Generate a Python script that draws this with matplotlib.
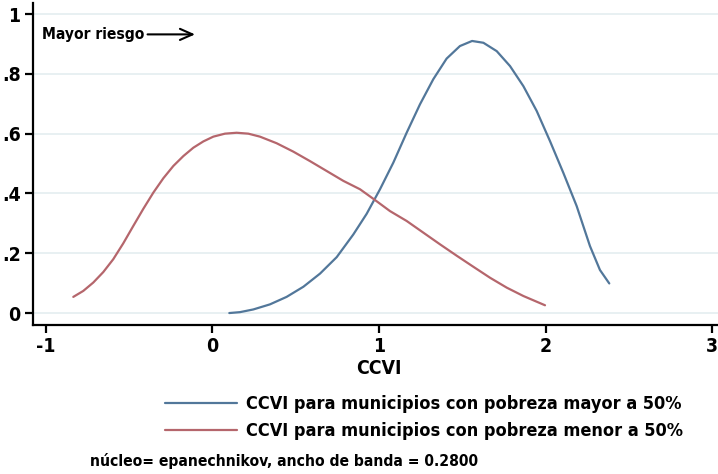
import matplotlib
matplotlib.use("Agg")
import matplotlib.pyplot as plt
from matplotlib import font_manager as fm
from matplotlib.font_manager import FontProperties

# ---- data ----
blue_x = [0.101, 0.165, 0.245, 0.345, 0.445, 0.546, 0.646, 0.746, 0.846, 0.926, 1.006,
          1.086, 1.166, 1.246, 1.326, 1.406, 1.486, 1.559, 1.627, 1.707, 1.787, 1.867,
          1.947, 2.027, 2.107, 2.187, 2.267, 2.327, 2.383]
blue_y = [0.000, 0.003, 0.012, 0.029, 0.054, 0.088, 0.132, 0.187, 0.263, 0.332, 0.414,
          0.503, 0.603, 0.698, 0.782, 0.851, 0.893, 0.910, 0.904, 0.876, 0.826, 0.759,
          0.676, 0.575, 0.469, 0.358, 0.224, 0.144, 0.099]

red_x = [-0.836, -0.776, -0.716, -0.656, -0.596, -0.536, -0.476, -0.415, -0.355, -0.295,
         -0.235, -0.175, -0.115, -0.055, 0.005, 0.075, 0.145, 0.215, 0.285, 0.385, 0.485,
         0.586, 0.686, 0.786, 0.886, 0.976, 1.066, 1.166, 1.266, 1.366, 1.466, 1.566,
         1.667, 1.767, 1.867, 1.997]
red_y = [0.054, 0.074, 0.102, 0.137, 0.180, 0.233, 0.291, 0.349, 0.403, 0.451,
         0.492, 0.525, 0.553, 0.574, 0.590, 0.600, 0.603, 0.600, 0.590, 0.568, 0.540,
         0.508, 0.475, 0.442, 0.414, 0.378, 0.341, 0.308, 0.269, 0.230, 0.192, 0.155,
         0.118, 0.085, 0.057, 0.026]

series_labels = ["CCVI para municipios con pobreza mayor a 50%",
                 "CCVI para municipios con pobreza menor a 50%"]
xticks = [-1, 0, 1, 2, 3]
xtick_labels = ["-1", "0", "1", "2", "3"]
yticks = [0, 0.2, 0.4, 0.6, 0.8, 1.0]
ytick_labels = ["0", ".2", ".4", ".6", ".8", "1"]
xlabel = "CCVI"
note = "núcleo= epanechnikov, ancho de banda = 0.2800"
annot = "Mayor riesgo"
title = "Estimación de densidad de Kernel"

# ---- font: prefer a condensed / narrow bold face if one is installed ----
chosen = None
cands = []
for f in fm.fontManager.ttflist:
    fn = f.fname.lower()
    if ("narrow" in fn or "condensed" in fn or "cond" in f.name.lower()) and \
            ("bold" in fn or f.weight in (700, "bold")):
        cands.append(f)
if cands:
    cands.sort(key=lambda f: (0 if "sans" in f.fname.lower() else 1, f.fname))
    chosen = FontProperties(fname=cands[0].fname)
else:
    chosen = FontProperties(family=["Liberation Sans", "DejaVu Sans"], weight="bold")


def fp(size):
    p = chosen.copy()
    p.set_size(size)
    return p


W, H = 718, 474
fig = plt.figure(figsize=(W / 100, H / 100), dpi=100)
renderer = fig.canvas.get_renderer()


def fit_size(s, target_px, start=13.0):
    t = fig.text(0, 0, s, fontproperties=fp(start))
    w = t.get_window_extent(renderer).width
    t.remove()
    return start * target_px / w


leg_fs = fit_size(series_labels[0], 434)
note_fs = fit_size(note, 390)
ann_fs = fit_size(annot, 103)
title_fs = fit_size(title, 265)
tick_fs = leg_fs * 1.08

# axes in pixel coords
l, r, t, b = 33, 725, 3, 325
ax = fig.add_axes([l / W, 1 - b / H, (r - l) / W, (b - t) / H])

blue = "#52779a"
red = "#b5666c"
ax.plot(blue_x, blue_y, color=blue, lw=1.6, solid_joinstyle="round",
        solid_capstyle="round", label=series_labels[0], zorder=3)
ax.plot(red_x, red_y, color=red, lw=1.6, solid_joinstyle="round",
        solid_capstyle="round", label=series_labels[1], zorder=3)

ax.set_xlim(-1.078, 3.078)
ax.set_ylim(-0.040, 1.037)
ax.set_xticks(xticks)
ax.set_xticklabels(xtick_labels, fontproperties=fp(tick_fs))
ax.set_yticks(yticks)
ax.set_yticklabels(ytick_labels, fontproperties=fp(tick_fs))
ax.grid(axis="y", color="#e6eff1", lw=1.3, zorder=0)
ax.set_axisbelow(True)
for s in ["top", "right"]:
    ax.spines[s].set_visible(False)
for s in ["left", "bottom"]:
    ax.spines[s].set_linewidth(1.6)
ax.tick_params(axis="both", direction="out", length=6, width=1.6, pad=3)
ax.set_xlabel(xlabel, fontproperties=fp(tick_fs), labelpad=2)

# annotation with arrow
ax.text(-1.024, 0.932, annot, fontproperties=fp(ann_fs), ha="left", va="center")
ax.annotate("", xy=(-0.105, 0.932), xytext=(-0.39, 0.932),
            arrowprops=dict(arrowstyle="->,head_length=0.9,head_width=0.4",
                            lw=1.5, color="black", shrinkA=0, shrinkB=0))

# legend
fs_px = leg_fs * 100 / 72
leg = fig.legend(loc="upper left", bbox_to_anchor=(165 / W, 1 - 395 / H),
                 frameon=False, prop=fp(leg_fs), borderpad=0, borderaxespad=0,
                 handlelength=72 / fs_px, handletextpad=9 / fs_px,
                 labelspacing=(30 - fs_px * 1.17) / fs_px)

fig.text(90 / W, 1 - 461 / H, note, fontproperties=fp(note_fs), ha="left", va="center")

# title, clipped by the top edge as in the reference
fig.text(367 / W, 1 + 1.5 / H, title, fontproperties=fp(title_fs), ha="center",
         va="baseline", color="#555555")

fig.savefig("out.png", dpi=100)
